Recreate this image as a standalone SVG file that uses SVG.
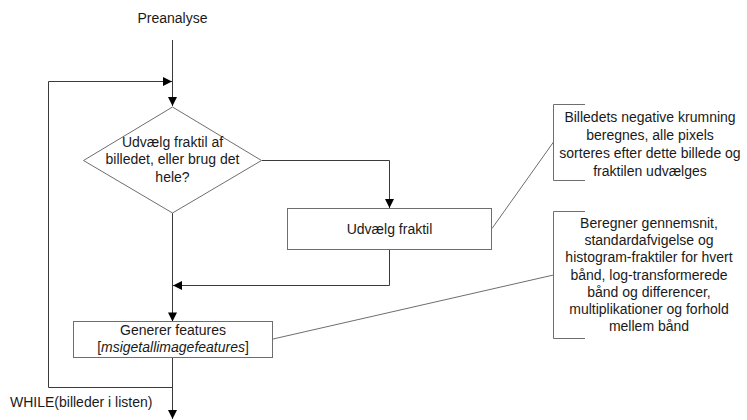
<svg xmlns="http://www.w3.org/2000/svg" width="747" height="420" viewBox="0 0 747 420">
  <style>
    text { font-family: "Liberation Sans", Arial, sans-serif; font-size: 14px; fill: #1a1a1a; }
    .c { text-anchor: middle; }
    .shape { fill: #ffffff; stroke: #6e6e6e; stroke-width: 1; }
    .flow { fill: none; stroke: #3a3a3a; stroke-width: 1; }
    .note { fill: none; stroke: #6e6e6e; stroke-width: 1; }
  </style>
  <defs>
    <marker id="arrow" viewBox="0 0 10 10" refX="10" refY="5" markerWidth="10" markerHeight="9" markerUnits="userSpaceOnUse" orient="auto">
      <path d="M0,0 L10,5 L0,10 Z" fill="#000000"/>
    </marker>
  </defs>

  <rect width="747" height="420" fill="#ffffff"/>

  <g id="connectors">
    <!-- entry from preanalysis -->
    <path class="flow" d="M172.5,40 V106" marker-end="url(#arrow)"/>
    <!-- loop back -->
    <path class="flow" d="M172.5,387.5 H48.5 V81.5 H172" marker-end="url(#arrow)"/>
    <!-- decision: take fractile -->
    <path class="flow" d="M262,160.5 H389.5 V208" marker-end="url(#arrow)"/>
    <!-- merge after fractile -->
    <path class="flow" d="M389.5,249.5 V285.5 H173" marker-end="url(#arrow)"/>
    <!-- decision: whole image -->
    <path class="flow" d="M172.5,213 V321.5" marker-end="url(#arrow)"/>
    <!-- exit -->
    <path class="flow" d="M172.5,358 V419" marker-end="url(#arrow)"/>
    <!-- annotation leaders -->
    <path class="note" d="M492,228.5 L553.5,142"/>
    <path class="note" d="M273,339 L553.5,275"/>
  </g>

  <g id="preanalyse">
    <text class="c" x="172.5" y="23">Preanalyse</text>
  </g>

  <g id="decision">
    <polygon class="shape" points="172.5,107 261.5,160.5 172.5,213 83.5,160.5"/>
    <text class="c" x="172.5" y="146.5">Udvælg fraktil af</text>
    <text class="c" x="172.5" y="164">billedet, eller brug det</text>
    <text class="c" x="172.5" y="181.5">hele?</text>
  </g>

  <g id="udvaelg-fraktil">
    <rect class="shape" x="287.5" y="208.5" width="204" height="41"/>
    <text class="c" x="389.5" y="234">Udvælg fraktil</text>
  </g>

  <g id="generer-features">
    <rect class="shape" x="73.5" y="321.5" width="199" height="36"/>
    <text class="c" x="173" y="334.5">Generer features</text>
    <text class="c" x="173" y="352">[<tspan font-style="italic">msigetallimagefeatures</tspan>]</text>
  </g>

  <g id="note-fraktil">
    <path class="note" d="M585,104.5 H553.5 V180.5 H585"/>
    <text class="c" x="650" y="121.5">Billedets negative krumning</text>
    <text class="c" x="650" y="139.7">beregnes, alle pixels</text>
    <text class="c" x="650" y="157.9">sorteres efter dette billede og</text>
    <text class="c" x="650" y="176.1">fraktilen udvælges</text>
  </g>

  <g id="note-features">
    <path class="note" d="M585,211.5 H553.5 V338.5 H585"/>
    <text class="c" x="649" y="228">Beregner gennemsnit,</text>
    <text class="c" x="649" y="245.2">standardafvigelse og</text>
    <text class="c" x="649" y="262.4">histogram-fraktiler for hvert</text>
    <text class="c" x="649" y="279.6">bånd, log-transformerede</text>
    <text class="c" x="649" y="296.8">bånd og differencer,</text>
    <text class="c" x="649" y="314">multiplikationer og forhold</text>
    <text class="c" x="649" y="331.2">mellem bånd</text>
  </g>

  <g id="while-label">
    <text x="10" y="407">WHILE(billeder i listen)</text>
  </g>
</svg>
